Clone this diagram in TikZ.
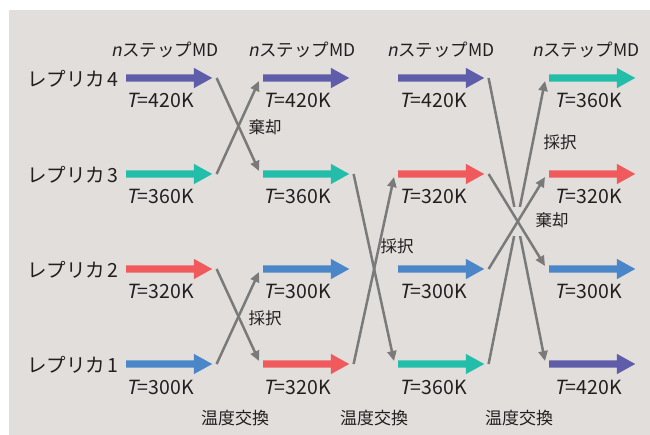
\documentclass[tikz,border=0pt]{standalone}
\usepackage{fontspec}
\setmainfont{Noto Sans CJK JP}
\newfontfamily\jpit[FakeSlant=0.2]{Noto Sans CJK JP}
\usetikzlibrary{arrows.meta,shapes.arrows}
\definecolor{bg}{HTML}{E2DEDB}
\definecolor{cpur}{HTML}{5F5CAA}
\definecolor{cteal}{HTML}{22BEAA}
\definecolor{cred}{HTML}{F05A5C}
\definecolor{cblue}{HTML}{4A86C8}
\definecolor{cgrey}{HTML}{7A7A7A}
\definecolor{ctext}{HTML}{231F20}
\begin{document}
\begin{tikzpicture}[x=1pt,y=-1pt,
  mdarrow/.style={single arrow, draw=none, inner xsep=0pt, inner ysep=3.5pt,
    minimum height=86pt, single arrow head extend=6.5pt,
    single arrow tip angle=58, anchor=tail},
  tlab/.style={font=\fontsize{19.5}{19.5}\selectfont, anchor=west, inner sep=0pt, text=ctext},
  replab/.style={font=\fontsize{19.5}{19.5}\selectfont, anchor=west, inner sep=0pt, text=ctext},
  mdlab/.style={font=\fontsize{17.5}{17.5}\selectfont, inner sep=0pt, text=ctext},
  exlab/.style={font=\fontsize{17}{17}\selectfont, inner sep=0pt, text=ctext},
  acclab/.style={font=\fontsize{16.5}{16.5}\selectfont, inner sep=0pt, text=ctext},
  exch/.style={draw=cgrey, line width=2.5pt, -{Triangle[length=10pt,width=9pt]}}
]
\useasboundingbox (0,0) rectangle (650,435);
\fill[bg] (9,10) rectangle (650,435);

% column headers
\foreach \x/\n in {165/h1,302/h2,441/h3,586/h4}
  \node[mdlab] (\n) at (\x,50) {{\jpit n}ステップMD};

% replica labels
\node[replab] (rep4) at (27,79) {レプリカ\hspace{2pt}4};
\node[replab] (rep3) at (27,175) {レプリカ\hspace{2pt}3};
\node[replab] (rep2) at (27,270) {レプリカ\hspace{2pt}2};
\node[replab] (rep1) at (27,365) {レプリカ\hspace{2pt}1};

% MD arrows: column 1
\node[mdarrow, fill=cpur]  (a41) at (126,78) {};
\node[mdarrow, fill=cteal] (a31) at (126,174) {};
\node[mdarrow, fill=cred]  (a21) at (126,269) {};
\node[mdarrow, fill=cblue] (a11) at (126,364) {};
% column 2
\node[mdarrow, fill=cpur]  (a42) at (263,78) {};
\node[mdarrow, fill=cteal] (a32) at (263,174) {};
\node[mdarrow, fill=cblue] (a22) at (263,269) {};
\node[mdarrow, fill=cred]  (a12) at (263,364) {};
% column 3
\node[mdarrow, fill=cpur]  (a43) at (398,78) {};
\node[mdarrow, fill=cred]  (a33) at (398,174) {};
\node[mdarrow, fill=cblue] (a23) at (398,269) {};
\node[mdarrow, fill=cteal] (a13) at (398,364) {};
% column 4
\node[mdarrow, fill=cteal] (a44) at (549,78) {};
\node[mdarrow, fill=cred]  (a34) at (549,174) {};
\node[mdarrow, fill=cblue] (a24) at (549,269) {};
\node[mdarrow, fill=cpur]  (a14) at (549,364) {};

% temperature labels
\node[tlab] (t41) at (126,100) {{\jpit T}=420K};
\node[tlab] (t31) at (126,196) {{\jpit T}=360K};
\node[tlab] (t21) at (126,291) {{\jpit T}=320K};
\node[tlab] (t11) at (126,387) {{\jpit T}=300K};
\node[tlab] (t42) at (263,100) {{\jpit T}=420K};
\node[tlab] (t32) at (263,196) {{\jpit T}=360K};
\node[tlab] (t22) at (263,291) {{\jpit T}=300K};
\node[tlab] (t12) at (263,387) {{\jpit T}=320K};
\node[tlab] (t43) at (399,100) {{\jpit T}=420K};
\node[tlab] (t33) at (399,196) {{\jpit T}=320K};
\node[tlab] (t23) at (399,291) {{\jpit T}=300K};
\node[tlab] (t13) at (399,387) {{\jpit T}=360K};
\node[tlab] (t44) at (554,100) {{\jpit T}=360K};
\node[tlab] (t34) at (554,196) {{\jpit T}=320K};
\node[tlab] (t24) at (554,291) {{\jpit T}=300K};
\node[tlab] (t14) at (554,387) {{\jpit T}=420K};

% exchange 1
\draw[exch] ([xshift=4pt]a41.tip) -- ([xshift=-4pt,yshift=3pt]a32.tail);
\draw[exch] ([xshift=4pt]a31.tip) -- ([xshift=-4pt,yshift=-3pt]a42.tail);
\draw[exch] ([xshift=4pt]a21.tip) -- ([xshift=-4pt,yshift=3pt]a12.tail);
\draw[exch] ([xshift=4pt]a11.tip) -- ([xshift=-4pt,yshift=-3pt]a22.tail);
% exchange 2
\draw[exch] ([xshift=4pt]a32.tip) -- ([xshift=-4pt,yshift=3pt]a13.tail);
\draw[exch] ([xshift=4pt]a12.tip) -- ([xshift=-4pt,yshift=-3pt]a33.tail);
% exchange 3
\draw[exch] ([xshift=4pt]a43.tip) -- ([xshift=-4pt,yshift=3pt]a14.tail);
\draw[exch] ([xshift=4pt]a13.tip) -- ([xshift=-4pt,yshift=-3pt]a44.tail);
\fill[bg] (505,207) rectangle (531,236);
\draw[exch] ([xshift=4pt]a33.tip) -- ([xshift=-4pt,yshift=3pt]a24.tail);
\draw[exch] ([xshift=4pt]a23.tip) -- ([xshift=-4pt,yshift=-3pt]a34.tail);

% accept / reject labels
\node[acclab] (k1) at (265,127) {棄却};
\node[acclab] (s1) at (265,318) {採択};
\node[acclab] (s2) at (397,246) {採択};
\node[acclab] (s3) at (560,142) {採択};
\node[acclab] (k3) at (552,220) {棄却};

% exchange labels
\node[exlab] (x1) at (235,418) {温度交換};
\node[exlab] (x2) at (374,418) {温度交換};
\node[exlab] (x3) at (519,418) {温度交換};
\end{tikzpicture}
\end{document}
